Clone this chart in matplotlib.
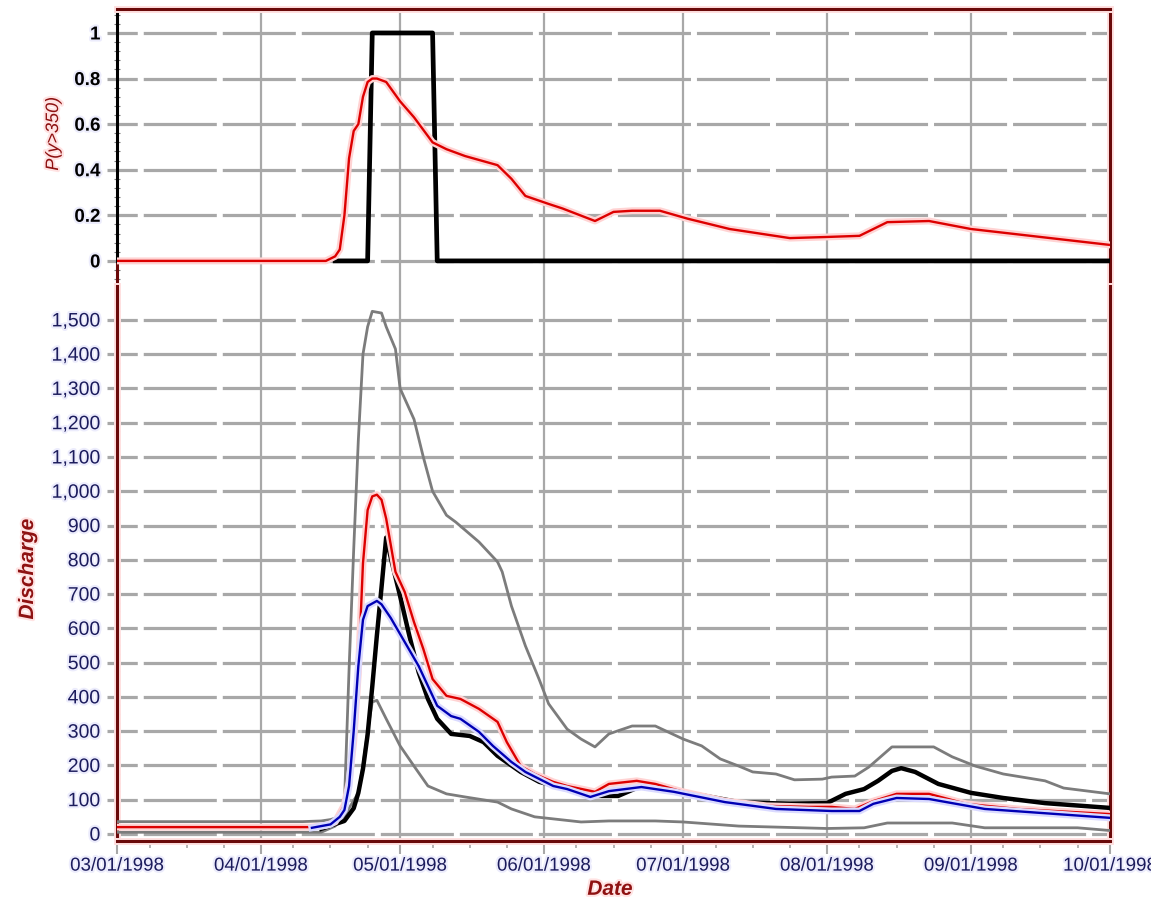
import numpy as np
import pandas as pd
import matplotlib
matplotlib.use("Agg")
from matplotlib import pyplot as plt
import matplotlib.dates as mdates
import matplotlib.ticker as mticker
import matplotlib.patheffects as pe

plt.rcParams['font.family'] = ['Liberation Sans', 'DejaVu Sans']
plt.rcParams['lines.scale_dashes'] = False

YEAR = "1998-"

# forecast probability of exceeding 350
prob_dates = ["03-01", "04-15", "04-17", "04-18", "04-19", "04-20", "04-21", "04-22",
              "04-23", "04-24", "04-25", "04-26", "04-28", "05-01", "05-04", "05-08",
              "05-11", "05-15", "05-22", "05-25", "05-28", "06-02", "06-05", "06-12",
              "06-16", "06-20", "06-26", "07-02", "07-11", "07-24", "08-01", "08-08",
              "08-14", "08-23", "09-01", "09-16", "10-01"]
prob_fcst = [0, 0, 0.02, 0.05, 0.2, 0.45, 0.57, 0.6, 0.72, 0.785, 0.8, 0.8, 0.785, 0.7,
             0.63, 0.52, 0.49, 0.46, 0.42, 0.36, 0.285, 0.25, 0.23, 0.175, 0.215, 0.22,
             0.22, 0.185, 0.14, 0.1, 0.105, 0.11, 0.17, 0.175, 0.14, 0.105, 0.07]

# observed exceedance (0/1)
obs_prob_dates = ["04-17", "04-24", "04-25", "05-08", "05-09", "10-01"]
obs_prob = [0, 0, 1, 1, 0, 0]

# upper bound of ensemble discharge
upper_dates = ["03-01", "04-10", "04-14", "04-16", "04-18", "04-19", "04-20", "04-21",
               "04-22", "04-23", "04-24", "04-25", "04-27", "04-28", "04-30", "05-01",
               "05-04", "05-06", "05-08", "05-11", "05-13", "05-18", "05-22", "05-23",
               "05-25", "05-28", "05-31", "06-02", "06-06", "06-09", "06-12", "06-15",
               "06-20", "06-25", "07-01", "07-05", "07-09", "07-13", "07-16", "07-21",
               "07-25", "07-31", "08-02", "08-07", "08-10", "08-15", "08-24", "08-28",
               "09-02", "09-08", "09-17", "09-21", "10-01"]
upper_q = [36, 36, 38, 42, 50, 90, 480, 830, 1150, 1400, 1480, 1525, 1520, 1480, 1415,
           1300, 1210, 1100, 1000, 930, 910, 852, 794, 765, 665, 549, 450, 380, 306, 277,
           254, 292, 315, 315, 277, 257, 219, 198, 181, 175, 158, 160, 166, 169, 195, 254,
           254, 225, 198, 175, 155, 134, 117]

# lower bound of ensemble discharge
lower_dates = ["03-01", "04-14", "04-17", "04-19", "04-22", "04-23", "04-24", "04-25",
               "04-26", "04-28", "05-01", "05-04", "05-07", "05-11", "05-15", "05-22",
               "05-25", "05-30", "06-03", "06-09", "06-15", "06-25", "07-01", "07-13",
               "08-01", "08-09", "08-14", "08-28", "09-04", "09-24", "10-01"]
lower_q = [5, 5, 23, 53, 120, 200, 300, 385, 390, 336, 257, 198, 140, 117, 108, 93,
           73, 50, 44, 35, 38, 38, 35, 23, 16, 18, 32, 32, 18, 18, 10]

# ensemble mean
mean_dates = ["03-01", "04-12", "04-15", "04-17", "04-19", "04-20", "04-21", "04-22",
              "04-23", "04-24", "04-25", "04-26", "04-27", "04-28", "04-30", "05-02",
              "05-04", "05-06", "05-08", "05-11", "05-14", "05-18", "05-22", "05-24",
              "05-27", "05-30", "06-03", "06-06", "06-12", "06-15", "06-21", "06-25",
              "07-01", "07-10", "07-19", "07-28", "08-02", "08-07", "08-11", "08-16",
              "08-23", "08-31", "09-11", "10-01"]
mean_q = [20, 20, 25, 35, 85, 150, 270, 470, 790, 945, 985, 990, 975, 920, 765, 706,
          618, 540, 452, 403, 394, 365, 327, 268, 198, 175, 152, 140, 123, 146, 155, 146,
          123, 96, 82, 79, 79, 73, 96, 117, 117, 88, 73, 58]

# ensemble median
median_dates = ["04-12", "04-16", "04-18", "04-19", "04-20", "04-21", "04-22", "04-23",
                "04-24", "04-26", "04-27", "04-29", "05-02", "05-05", "05-07", "05-09",
                "05-12", "05-14", "05-18", "05-21", "05-25", "05-28", "06-03", "06-06",
                "06-11", "06-15", "06-22", "06-29", "07-10", "07-21", "08-02", "08-08",
                "08-11", "08-16", "08-23", "09-04", "10-01"]
median_q = [18, 28, 50, 70, 140, 300, 490, 625, 665, 680, 670, 630, 560, 490, 432, 374,
            344, 336, 298, 257, 210, 181, 140, 131, 108, 125, 137, 123, 93, 73, 67, 67,
            88, 105, 102, 73, 47]

# observed discharge
obs_dates = ["04-14", "04-19", "04-21", "04-22", "04-23", "04-24", "04-25", "04-26",
             "04-27", "04-28", "04-29", "05-01", "05-03", "05-05", "05-07", "05-09",
             "05-12", "05-16", "05-19", "05-22", "05-27", "05-31", "06-12", "06-17",
             "06-22", "07-01", "07-13", "07-24", "08-01", "08-05", "08-09", "08-12",
             "08-15", "08-17", "08-20", "08-25", "09-01", "09-08", "09-17", "10-01"]
obs_q = [15, 38, 75, 120, 190, 290, 430, 580, 720, 865, 805, 694, 578, 472, 394, 336,
         292, 286, 268, 228, 181, 152, 111, 111, 140, 123, 93, 88, 90, 117, 131, 155,
         184, 192, 181, 146, 120, 105, 90, 76]

FRAME = '#6a0a0a'
LABEL_RED = '#8e1212'
NAVY = '#1b1b5c'
GRID = '#a8a8a8'


def dates(days):
    return pd.to_datetime([YEAR + d for d in days])


red_glow = [pe.Stroke(linewidth=5, foreground='#ffd3d3'), pe.Normal()]
blue_glow = [pe.Stroke(linewidth=5, foreground='#dadaff'), pe.Normal()]
frame_glow = [pe.Stroke(linewidth=5, foreground='#ffe0e0'), pe.Normal()]

fig = plt.figure(figsize=(11.51, 9.03), dpi=100)
ax_top = fig.add_axes([0.1017, 0.6822, 0.8627, 0.3067])
ax_bot = fig.add_axes([0.1017, 0.0676, 0.8627, 0.6146])

# probability panel
ax_top.plot(dates(obs_prob_dates), obs_prob, color='black', lw=3.4, zorder=3)
ax_top.plot(dates(prob_dates), prob_fcst, color='#dd0000', lw=1.7, zorder=4,
            path_effects=red_glow)

# discharge panel
ax_bot.plot(dates(upper_dates), upper_q, color='#7c7c7c', lw=2, zorder=3)
ax_bot.plot(dates(lower_dates), lower_q, color='#7c7c7c', lw=2, zorder=3)
ax_bot.plot(dates(obs_dates), obs_q, color='black', lw=3.2, zorder=4)
ax_bot.plot(dates(mean_dates), mean_q, color='#dd0000', lw=1.7, zorder=5,
            path_effects=red_glow)
ax_bot.plot(dates(median_dates), median_q, color='#0000b4', lw=1.7, zorder=6,
            path_effects=blue_glow)

x0, x1 = pd.Timestamp('1998-03-01'), pd.Timestamp('1998-10-01')
for ax in (ax_top, ax_bot):
    ax.set_xlim(x0, x1)
    ax.set_axisbelow(True)
    ax.xaxis.set_major_locator(mdates.MonthLocator())
    ax.xaxis.set_minor_locator(mdates.DayLocator(bymonthday=[8, 16, 24]))
    ax.grid(axis='x', which='major', color=GRID, lw=1.6, ls='-')
    ax.grid(axis='y', which='major', color=GRID, lw=2.3, ls=(38, (52.6, 4.3)))
    ax.tick_params(axis='y', which='major', direction='out', length=7, width=2.3,
                   color=GRID, pad=5)
    ax.tick_params(axis='y', which='minor', direction='inout', length=4, width=0.8,
                   color='#7a7a7a')
    for side in ('top', 'right', 'left', 'bottom'):
        ax.spines[side].set_color(FRAME)
        ax.spines[side].set_linewidth(2.2)
        ax.spines[side].set_path_effects(frame_glow)

ax_top.spines['bottom'].set_visible(False)
ax_bot.spines['top'].set_visible(False)

# top panel axes
ax_top.set_ylim(-0.11, 1.105)
ax_top.set_yticks(np.arange(0, 1.01, 0.2))
ax_top.yaxis.set_minor_locator(mticker.AutoMinorLocator(5))
ax_top.yaxis.set_major_formatter(mticker.FuncFormatter(lambda v, p: '%g' % round(v, 1)))
ax_top.tick_params(axis='y', labelsize=13.5, labelcolor='black')
for t in ax_top.get_yticklabels():
    t.set_fontweight('bold')
ax_top.tick_params(axis='x', which='both', length=0, labelbottom=False)
ax_top.spines['left'].set_color('black')
ax_top.spines['left'].set_path_effects([])
ax_top.spines['left'].set_bounds(0, 1.105)
ax_top.plot([0, 0], [0, 0.11 / 1.215], transform=ax_top.transAxes, color=FRAME,
            lw=2.2, clip_on=False, solid_capstyle='butt')
ax_top.set_ylabel('P(y>350)', fontsize=13, style='italic', color=LABEL_RED,
                  path_effects=[pe.withStroke(linewidth=3, foreground='#ffe3e3')])
ax_top.yaxis.set_label_coords(-0.0554, 0.549)

# bottom panel axes
ax_bot.set_ylim(-20.4, 1599)
ax_bot.set_yticks(np.arange(0, 1501, 100))
ax_bot.yaxis.set_minor_locator(mticker.AutoMinorLocator(4))
ax_bot.yaxis.set_major_formatter(mticker.FuncFormatter(lambda v, p: '{:,.0f}'.format(v)))
ax_bot.tick_params(axis='y', labelsize=14, labelcolor=NAVY)
ax_bot.xaxis.set_major_formatter(mdates.DateFormatter('%m/%d/%Y'))
ax_bot.tick_params(axis='x', which='major', direction='out', length=9, width=1.5,
                   color=GRID, pad=3, labelsize=13.5, labelcolor=NAVY)
ax_bot.tick_params(axis='x', which='minor', direction='out', length=5, width=1.2,
                   color=GRID)

halo = [pe.withStroke(linewidth=3, foreground='#ececfc')]
for t in ax_bot.get_yticklabels() + ax_bot.get_xticklabels() + ax_top.get_yticklabels():
    t.set_path_effects(halo)

label_style = dict(fontsize=15, style='italic', fontweight='bold', color=LABEL_RED,
                   path_effects=[pe.withStroke(linewidth=3, foreground='#ffe3e3')])
ax_bot.set_ylabel('Discharge', **label_style)
ax_bot.yaxis.set_label_coords(-0.0806, 0.49)
ax_bot.set_xlabel('Date', **label_style)
ax_bot.xaxis.set_label_coords(0.4965, -0.07)

fig.savefig('out.png', dpi=100)
